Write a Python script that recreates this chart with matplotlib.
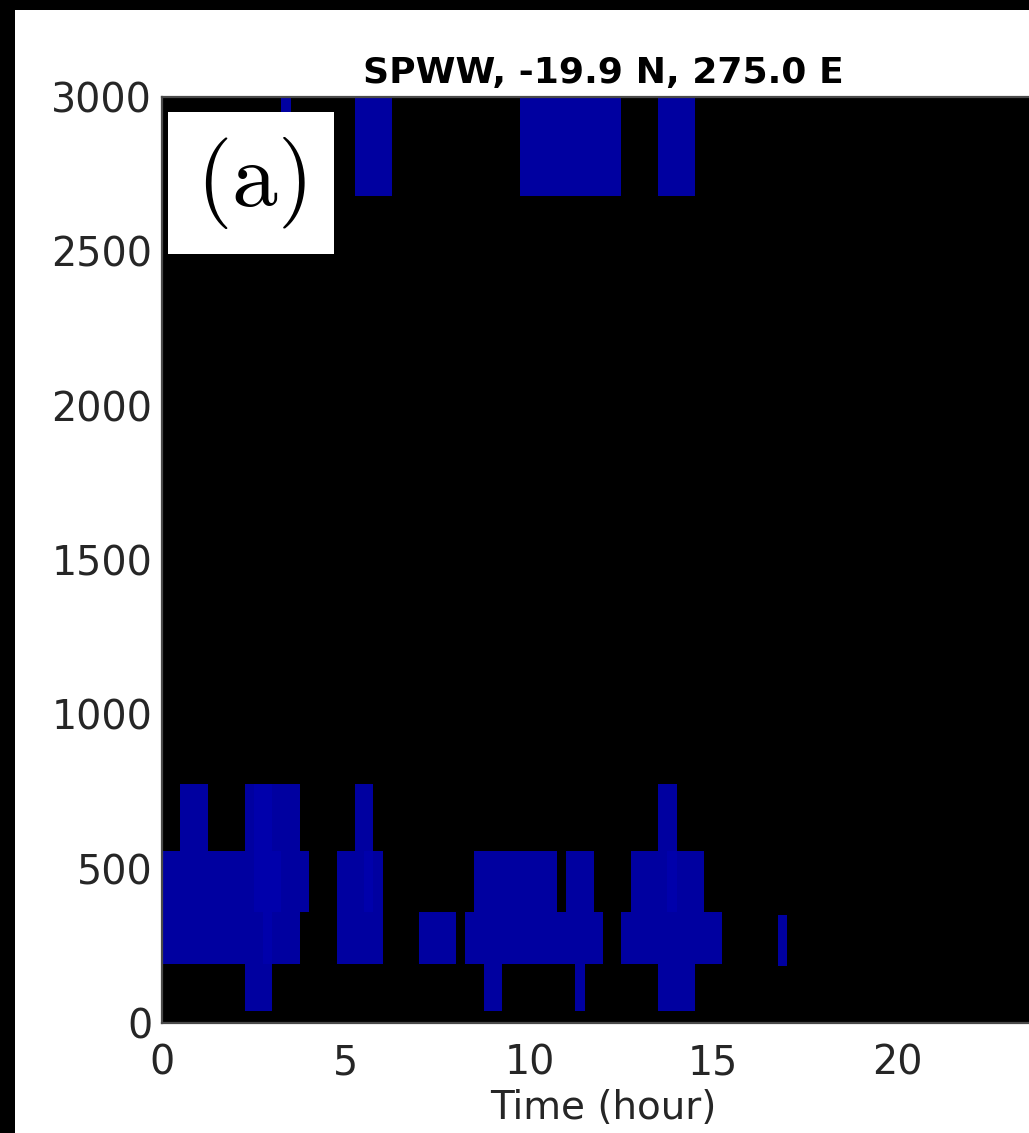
import matplotlib
matplotlib.use("Agg")
import matplotlib.pyplot as plt
from matplotlib.patches import Rectangle

# Cloud segments: start hour, end hour, bottom height (m), top height (m)
seg_t0 = [0.0, 0.5, 1.25, 2.25, 3.0, 3.75, 4.75, 5.25, 7.0,
          8.25, 8.5, 11.0, 8.75, 11.25,
          12.5, 12.75, 13.5, 13.5, 16.75,
          3.25, 5.25, 9.75, 13.5]
seg_t1 = [0.5, 1.25, 2.25, 3.0, 3.75, 4.0, 6.0, 5.75, 8.0,
          12.0, 10.75, 11.75, 9.25, 11.5,
          15.25, 14.75, 14.0, 14.5, 17.0,
          3.5, 6.25, 12.5, 14.5]
seg_z0 = [192, 192, 192, 40, 192, 360, 192, 557, 192,
          192, 360, 360, 40, 40,
          192, 360, 557, 40, 185,
          2680, 2680, 2680, 2680]
seg_z1 = [557, 774, 557, 774, 774, 557, 557, 774, 360,
          360, 557, 557, 192, 192,
          360, 557, 774, 192, 350,
          3000, 3000, 3000, 3000]

# Slightly stronger overlapping patches
hi_t0 = [2.5, 2.75, 3.0, 5.5, 13.75]
hi_t1 = [3.0, 3.0, 3.25, 5.75, 14.0]
hi_z0 = [360, 192, 360, 360, 360]
hi_z1 = [774, 360, 557, 557, 557]

x_ticks = [0, 5, 10, 15, 20]
y_ticks = [0, 500, 1000, 1500, 2000, 2500, 3000]
title = "SPWW, -19.9 N, 275.0 E"
xlabel = "Time (hour)"
panel = r"$\mathrm{(a)}$"

plt.rcParams['font.family'] = ['DejaVu Sans']
plt.rcParams['mathtext.fontset'] = 'cm'

W, H = 1029, 1133
fig = plt.figure(figsize=(W / 100, H / 100), dpi=100, facecolor='black')
fig.patches.append(Rectangle((15 / W, 0), 1, 1 - 10 / H, transform=fig.transFigure,
                             facecolor='white', edgecolor='none', zorder=-10))

ax_left, ax_right = 162, 162 + 24 * 36.75
ax_top, ax_bot = 97, 1023
ax = fig.add_axes([ax_left / W, 1 - ax_bot / H, (ax_right - ax_left) / W, (ax_bot - ax_top) / H])
ax.set_facecolor('black')

main_color = '#0000A0'
hi_color = '#0000AB'
ax.bar(seg_t0, [b - a for a, b in zip(seg_z0, seg_z1)],
       width=[b - a for a, b in zip(seg_t0, seg_t1)], bottom=seg_z0,
       align='edge', color=main_color, edgecolor='none', linewidth=0)
ax.bar(hi_t0, [b - a for a, b in zip(hi_z0, hi_z1)],
       width=[b - a for a, b in zip(hi_t0, hi_t1)], bottom=hi_z0,
       align='edge', color=hi_color, edgecolor='none', linewidth=0)

ax.set_xlim(0, 24)
ax.set_ylim(0, 3000)
ax.set_xticks(x_ticks)
ax.set_xticklabels([str(v) for v in x_ticks])
ax.set_yticks(y_ticks)
ax.set_yticklabels([str(v) for v in y_ticks])
ax.tick_params(axis='both', length=0, labelsize=28.5, labelcolor='#262626')
ax.tick_params(axis='x', pad=15)
ax.tick_params(axis='y', pad=7)
for s in ax.spines.values():
    s.set_color('#4a4a4a')
    s.set_linewidth(1.6)

ax.set_xlabel(xlabel, fontsize=28, color='#262626', labelpad=4)
ax.set_title(title, fontsize=26, fontweight='bold', color='black', pad=10)

# panel label box
bx0, bx1, by0, by1 = 168, 334, 112, 254
fig.patches.append(Rectangle((bx0 / W, 1 - by1 / H), (bx1 - bx0) / W, (by1 - by0) / H,
                             transform=fig.transFigure, facecolor='white',
                             edgecolor='none', zorder=5))
fig.text((bx0 + bx1) / 2 / W, 1 - (by0 + by1) / 2 / H, panel, fontsize=66,
         ha='center', va='center', color='black', zorder=6)

fig.savefig('out.png', dpi=100, facecolor=fig.get_facecolor())
